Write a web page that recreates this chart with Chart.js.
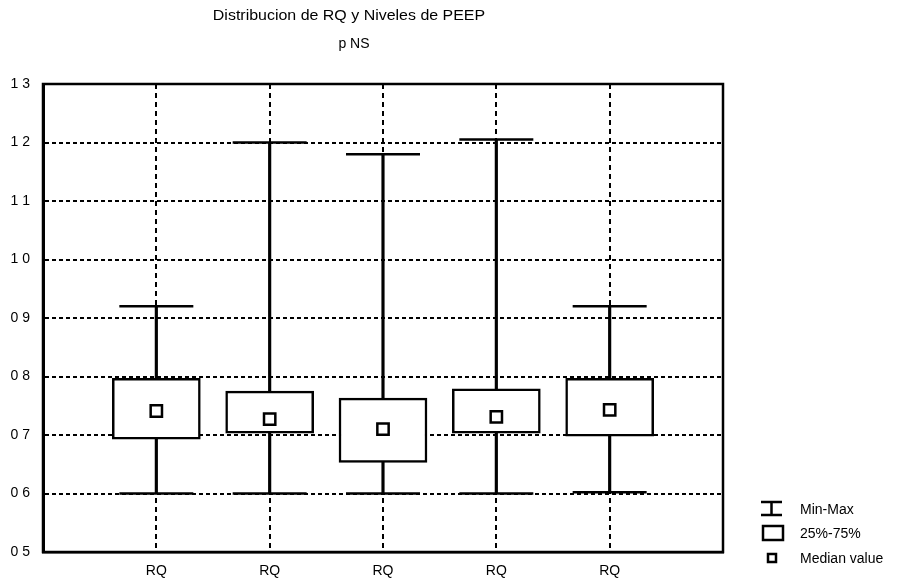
<!DOCTYPE html>
<html lang="es">
<head>
<meta charset="UTF-8">
<title>Distribucion de RQ y Niveles de PEEP</title>
<script src="https://cdn.jsdelivr.net/npm/chart.js@4.4.0/dist/chart.umd.min.js"></script>
<style>
  body { margin: 0; background: #fff; }
  canvas { display: block; }
</style>
</head>
<body>
<canvas id="chart" width="904" height="582"></canvas>
<script>
// values
const categories = ['RQ', 'RQ', 'RQ', 'RQ', 'RQ'];
const minVals = [0.600, 0.600, 0.600, 0.600, 0.602];
const q1Vals = [0.693, 0.703, 0.653, 0.703, 0.698];
const medianVals = [0.741, 0.727, 0.710, 0.731, 0.743];
const q3Vals = [0.797, 0.775, 0.763, 0.779, 0.797];
const maxVals = [0.920, 1.200, 1.180, 1.205, 0.920];
const yTickLabels = ['0 5', '0 6', '0 7', '0 8', '0 9', '1 0', '1 1', '1 2', '1 3'];
const titleText = 'Distribucion de RQ y Niveles de PEEP';
const subtitleText = 'p NS';
const legendLabels = ['Min-Max', '25%-75%', 'Median value'];

const FONT = '"Liberation Sans", Arial, sans-serif';
Chart.defaults.font.family = FONT;
Chart.defaults.color = '#000';

const pos = categories.map((c, i) => i + 1);
const boxData = pos.map((x, i) => ({ x: x, y: [q1Vals[i], q3Vals[i]] }));
const whiskerData = pos.map((x, i) => ({ x: x, y: [minVals[i], maxVals[i]] }));
const capData = pos.flatMap((x, i) => [{ x: x, y: minVals[i] }, { x: x, y: maxVals[i] }]);
const medianData = pos.map((x, i) => ({ x: x, y: medianVals[i] }));

// frame, titles and the little legend in the lower right
const extras = {
  id: 'extras',
  afterDraw(chart) {
    const ctx = chart.ctx;
    const a = chart.chartArea;
    ctx.save();
    ctx.strokeStyle = '#000';
    ctx.lineWidth = 2.5;
    ctx.strokeRect(a.left, a.top, a.right - a.left, a.bottom - a.top);

    ctx.fillStyle = '#000';
    ctx.textAlign = 'center';
    ctx.textBaseline = 'middle';
    ctx.font = '14px ' + FONT;
    // the scanned title is a bit wider than the font
    ctx.save();
    ctx.translate(349, 16);
    ctx.scale(1.14, 1);
    ctx.fillText(titleText, 0, 0);
    ctx.restore();
    ctx.fillText(subtitleText, 354, 44);

    // legend
    ctx.textAlign = 'left';
    ctx.lineWidth = 2.5;
    ctx.beginPath();
    ctx.moveTo(761, 502); ctx.lineTo(782, 502);
    ctx.moveTo(771.5, 502); ctx.lineTo(771.5, 515);
    ctx.moveTo(761, 515); ctx.lineTo(782, 515);
    ctx.stroke();
    ctx.fillText(legendLabels[0], 800, 510);
    ctx.strokeRect(763, 526, 20, 14);
    ctx.fillText(legendLabels[1], 800, 534);
    ctx.strokeRect(768, 554, 8, 8);
    ctx.fillText(legendLabels[2], 800, 559);
    ctx.restore();
  }
};

const gridStyle = { color: '#000', lineWidth: 2, drawTicks: false, offset: false };

new Chart(document.getElementById('chart'), {
  type: 'bar',
  data: {
    datasets: [
      {
        type: 'scatter',
        data: medianData,
        pointStyle: 'rect',
        pointRadius: 8,
        pointBackgroundColor: '#fff',
        pointBorderColor: '#000',
        pointBorderWidth: 2.5
      },
      {
        data: boxData,
        backgroundColor: '#fff',
        borderColor: '#000',
        borderWidth: 2.5,
        borderSkipped: false,
        barThickness: 88,
        grouped: false
      },
      {
        type: 'scatter',
        data: capData,
        pointStyle: 'line',
        pointRadius: 37,
        pointBorderColor: '#000',
        pointBorderWidth: 2.5
      },
      {
        data: whiskerData,
        backgroundColor: '#000',
        borderWidth: 0,
        barThickness: 2.5,
        grouped: false
      }
    ]
  },
  options: {
    responsive: false,
    animation: false,
    events: [],
    // the wide cap points would otherwise push the plot area in
    layout: { autoPadding: false, padding: { top: 84, right: 181, bottom: 0, left: 0 } },
    plugins: {
      legend: { display: false },
      title: { display: false },
      tooltip: { enabled: false }
    },
    scales: {
      x: {
        type: 'linear',
        min: 0,
        max: 6,
        offset: false,
        afterFit: s => { s.height = 30; },
        ticks: {
          stepSize: 1,
          autoSkip: false,
          maxRotation: 0,
          padding: 11,
          font: { size: 14 },
          callback: v => (v >= 1 && v <= 5) ? categories[v - 1] : ''
        },
        grid: gridStyle,
        border: { display: true, color: '#000', width: 2.5, dash: [5, 4] }
      },
      y: {
        min: 0.5,
        max: 1.3,
        afterFit: s => { s.width = 43; s.paddingTop = 0; s.paddingBottom = 0; },
        ticks: {
          stepSize: 0.1,
          padding: 13,
          font: { size: 14 },
          callback: (v, i) => yTickLabels[i]
        },
        grid: gridStyle,
        border: { display: true, color: '#000', width: 3, dash: [4, 3] }
      }
    }
  },
  plugins: [extras]
});
</script>
</body>
</html>
